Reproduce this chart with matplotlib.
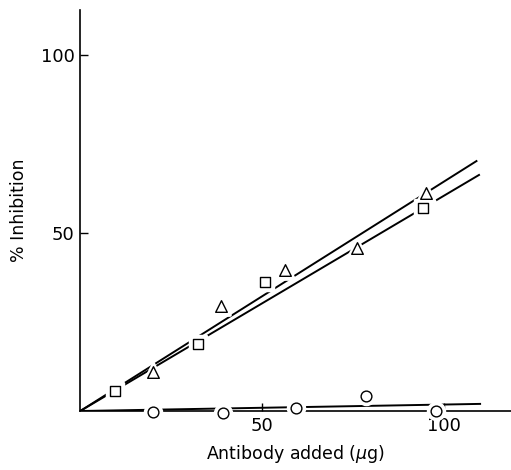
import numpy as np
import matplotlib.pyplot as plt

sq_x = [9.7, 32.3, 50.8, 94.2]
sq_y = [5.6, 18.8, 36.2, 57.0]
tri_x = [19.9, 38.7, 56.4, 76.2, 95.0]
tri_y = [11.0, 29.5, 39.6, 45.8, 61.2]
circ_x = [19.9, 39.2, 59.4, 78.7, 98.0]
circ_y = [-0.3, -0.5, 0.8, 4.2, 0.0]

# fitted lines (start, end)
tri_line_x = [0, 109.0]
tri_line_y = [0, 70.2]
sq_line_x = [0, 109.7]
sq_line_y = [0, 66.3]
circ_line_x = [0, 110.0]
circ_line_y = [0, 2.0]

fig = plt.figure(figsize=(5.11, 4.70), dpi=100)
ax = fig.add_axes([0.157, 0.1255, 0.843, 0.853])

for lx, ly in [(tri_line_x, tri_line_y), (sq_line_x, sq_line_y), (circ_line_x, circ_line_y)]:
    ax.plot(lx, ly, color='black', lw=1.4, zorder=2)

def pts(x, y, m, s):
    # white halo so lines break around the symbols
    ax.scatter(x, y, marker=m, s=s * 2.2, facecolor='white', edgecolor='white', lw=2.5, zorder=3, clip_on=False)
    ax.scatter(x, y, marker=m, s=s, facecolor='white', edgecolor='black', lw=1.0, zorder=4, clip_on=False)

pts(sq_x, sq_y, 's', 60)
pts(tri_x, tri_y, '^', 70)
pts(circ_x, circ_y, 'o', 60)

ax.set_xlim(0, 118.5)
ax.set_ylim(0, 112.6)
ax.set_xticks([50, 100])
ax.set_yticks([50, 100])
ax.tick_params(direction='in', length=6, width=1, labelsize=13, pad=4)
for s in ['top', 'right']:
    ax.spines[s].set_visible(False)
for s in ['left', 'bottom']:
    ax.spines[s].set_linewidth(1.2)

ax.set_xlabel('Antibody added ($\\mu$g)', fontsize=12.5, labelpad=6)
ax.set_ylabel('% Inhibition', fontsize=12.5, labelpad=9)

fig.savefig('out.png', dpi=100)
